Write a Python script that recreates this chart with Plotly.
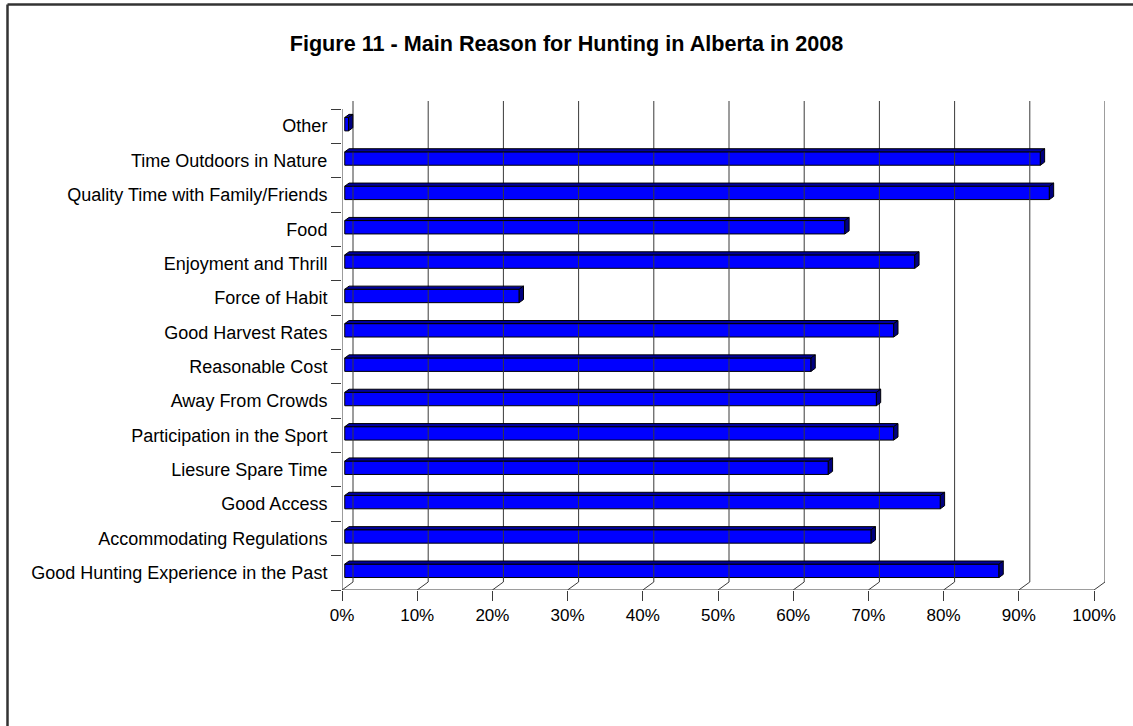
import plotly.graph_objects as go

# ---- data (bottom to top) ----
categories = [
    "Good Hunting Experience in the Past",
    "Accommodating Regulations",
    "Good Access",
    "Liesure Spare Time",
    "Participation in the Sport",
    "Away From Crowds",
    "Reasonable Cost",
    "Good Harvest Rates",
    "Force of Habit",
    "Enjoyment and Thrill",
    "Food",
    "Quality Time with Family/Friends",
    "Time Outdoors in Nature",
    "Other",
]
values = [87.0, 70.0, 79.2, 64.3, 73.0, 70.7, 62.0, 73.0, 23.2, 75.8, 66.5, 93.7, 92.5, 0.5]
x_ticks = [0, 10, 20, 30, 40, 50, 60, 70, 80, 90, 100]
x_ticktext = [f"{t}%" for t in x_ticks]

# ---- geometry of the pseudo-3D look ----
W, H = 1133, 726
ML, MR, MT, MB = 342, 28, 101, 136
PX = 7.52          # px per percent
PY = 34.36         # px per category
DX = 11 / PX       # wall depth in x units
DY = 8 / PY        # wall depth in y units
F = 0.25           # front face position within depth
BD = 0.39          # bar depth fraction
BW = 0.39          # bar thickness (category units)
XMAX = 100
n = len(categories)
y_lo, y_hi = -0.5, n - 0.5

fig = go.Figure()

# walls / gridlines
gx, gy = [], []
for t in x_ticks:
    gx += [t + DX, t + DX, None]
    gy += [y_lo + DY, y_hi + DY, None]
    gx += [t, t + DX, None]
    gy += [y_lo, y_lo + DY, None]
gx += [0, XMAX, None, 0, 0, None]
gy += [y_lo, y_lo, None, y_lo, y_hi, None]
fig.add_trace(go.Scatter(x=gx, y=gy, mode="lines", line=dict(color="#3a3a3a", width=1),
                         hoverinfo="skip", showlegend=False))

# front faces
ypos = [i + F * DY for i in range(n)]
fig.add_trace(go.Bar(orientation="h", x=values, y=ypos, base=F * DX, width=BW,
                     marker=dict(color="#0000FF", line=dict(color="black", width=1)),
                     showlegend=False, hoverinfo="skip"))

# top and side faces
tx, ty, sx, sy = [], [], [], []
bdx, bdy = BD * DX, BD * DY
for i, v in enumerate(values):
    x0 = F * DX
    x1 = v + F * DX
    yt = ypos[i] + BW / 2
    yb = ypos[i] - BW / 2
    tx += [x0, x1, x1 + bdx, x0 + bdx, x0, None]
    ty += [yt, yt, yt + bdy, yt + bdy, yt, None]
    sx += [x1, x1, x1 + bdx, x1 + bdx, x1, None]
    sy += [yb, yt, yt + bdy, yb + bdy, yb, None]
fig.add_trace(go.Scatter(x=tx, y=ty, mode="lines", fill="toself", fillcolor="#00009E",
                         line=dict(color="black", width=1), hoverinfo="skip", showlegend=False))
fig.add_trace(go.Scatter(x=sx, y=sy, mode="lines", fill="toself", fillcolor="#000080",
                         line=dict(color="black", width=1), hoverinfo="skip", showlegend=False))

# dummy trace for the boundary-tick axis
fig.add_trace(go.Scatter(x=[0], y=[0], yaxis="y2", mode="markers", marker=dict(opacity=0),
                         hoverinfo="skip", showlegend=False))

font_family = "Arial, Liberation Sans, sans-serif"
yr = [y_lo, y_hi + DY]

fig.update_layout(
    width=W, height=H, autosize=False,
    margin=dict(l=ML, r=MR, t=MT, b=MB),
    paper_bgcolor="white", plot_bgcolor="white",
    font=dict(family=font_family, color="black"),
    title=dict(text="<b>Figure 11 - Main Reason for Hunting in Alberta in 2008</b>",
               x=0.5, xref="container", xanchor="center",
               y=1 - 43 / H, yref="container", yanchor="middle",
               font=dict(size=21.6, family=font_family, color="black")),
    xaxis=dict(range=[0, XMAX + DX], tickvals=x_ticks, ticktext=x_ticktext,
               ticks="outside", ticklen=10, tickcolor="#3a3a3a", tickwidth=1,
               showgrid=False, zeroline=False, showline=False,
               tickfont=dict(size=17, family=font_family, color="black"), fixedrange=True),
    yaxis=dict(range=yr, tickvals=list(range(n)), ticktext=categories,
               ticks="outside", ticklen=10, tickcolor="rgba(0,0,0,0)",
               showgrid=False, zeroline=False, showline=False,
               tickfont=dict(size=18, family=font_family, color="black"), fixedrange=True),
    yaxis2=dict(range=yr, overlaying="y", side="left", anchor="x",
                tickvals=[k - 0.5 for k in range(n + 1)], showticklabels=False,
                ticks="outside", ticklen=10, tickcolor="#3a3a3a", tickwidth=1,
                showgrid=False, zeroline=False, showline=False, fixedrange=True),
    bargap=0.6,
)

# chart-area border (top and left edges visible)
def xp(px):
    return (px - ML) / (W - ML - MR)

def yp(py):
    return (H - MB - py) / (H - MT - MB)

fig.add_shape(type="line", xref="paper", yref="paper", x0=xp(7.5), x1=xp(W + 5),
              y0=yp(4.5), y1=yp(4.5), line=dict(color="#333", width=2.5))
fig.add_shape(type="line", xref="paper", yref="paper", x0=xp(7.5), x1=xp(7.5),
              y0=yp(4.5), y1=yp(H + 5), line=dict(color="#333", width=2.5))

fig.write_html("out.html", config={"displayModeBar": False},
               post_script="document.body.style.margin='0';document.body.style.padding='0';")
